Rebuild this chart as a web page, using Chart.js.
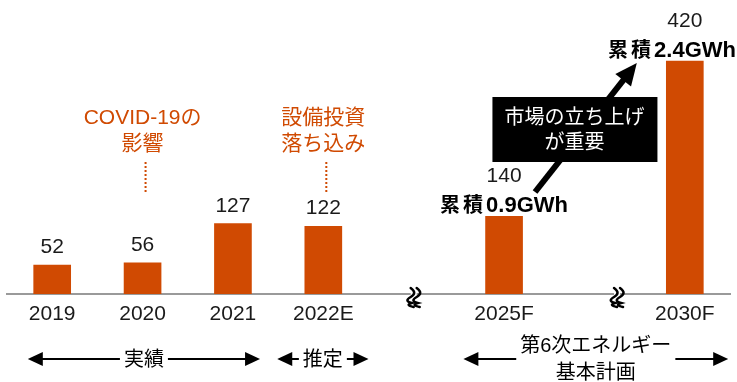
<!DOCTYPE html>
<html lang="ja">
<head>
    <meta charset="UTF-8">
    <title>蓄電池市場</title>
    <script src="https://cdn.jsdelivr.net/npm/chart.js"></script>
    <style>
        html, body { margin: 0; padding: 0; background: #fff; }
        #wrap { width: 737px; height: 382px; position: relative; }
    </style>
</head>
<body>
<div id="wrap"><canvas id="chart" width="737" height="382"></canvas></div>
<script>
// データ（空欄はグラフ上の省略部分）
const years = ['2019', '2020', '2021', '2022E', '', '2025F', '', '2030F'];
const values = [52, 56, 127, 122, null, 140, null, 420];
const notes = ['', '', '', '', '', '累積0.9GWh', '', '累積2.4GWh'];
const breakAt = [4, 6.25];

// 吹き出し
const topNotes = [
    { at: 1, lines: ['COVID-19の', '影響'] },
    { at: 3, lines: ['設備投資', '落ち込み'] }
];
const calloutLines = ['市場の立ち上げ', 'が重要'];

// 期間の矢印
const periods = [
    { lines: ['実績'], from: -0.27, to: 2.3 },
    { lines: ['推定'], from: 2.49, to: 3.5 },
    { lines: ['第6次エネルギー', '基本計画'], from: 4.55, to: 7.48 }
];

const ORANGE = '#D04A02';
const FONT = '"Liberation Sans", Arial, "Noto Sans CJK JP", sans-serif';

function arrowHead(ctx, x, y, dir) {
    // 水平の矢じり
    ctx.beginPath();
    ctx.moveTo(x, y);
    ctx.lineTo(x - dir * 15, y - 7);
    ctx.lineTo(x - dir * 15, y + 7);
    ctx.closePath();
    ctx.fill();
}

// 「累積」と数字部分を分けて描く
function drawNote(ctx, text, cx, y, maxRight) {
    const m = text.match(/^(\D+)(.*)$/);
    const head = m ? m[1] : '';
    const tail = m ? m[2] : text;
    ctx.font = 'bold 20px ' + FONT;
    ctx.letterSpacing = '3px';
    const w1 = ctx.measureText(head).width;
    ctx.font = 'bold 22px ' + FONT;
    ctx.letterSpacing = '0px';
    const w2 = ctx.measureText(tail).width;
    const w = w1 + w2;
    if (cx + w / 2 > maxRight) cx = maxRight - w / 2;
    const x0 = cx - w / 2;
    ctx.textAlign = 'left';
    ctx.fillStyle = '#000';
    ctx.font = 'bold 20px ' + FONT;
    ctx.letterSpacing = '3px';
    ctx.fillText(head, x0, y);
    ctx.font = 'bold 22px ' + FONT;
    ctx.letterSpacing = '0px';
    ctx.fillText(tail, x0 + w1, y);
    ctx.textAlign = 'center';
}

const annotations = {
    id: 'annotations',
    afterDatasetsDraw(chart) {
        const ctx = chart.ctx;
        const xs = chart.scales.x;
        const ys = chart.scales.y;
        const meta = chart.getDatasetMeta(0);
        ctx.save();

        // 省略記号
        ctx.strokeStyle = '#000';
        ctx.lineWidth = 2.5;
        ctx.lineCap = 'round';
        const base = ys.getPixelForValue(0);
        breakAt.forEach(function (b) {
            const x = xs.getPixelForValue(b);
            ctx.fillStyle = '#fff';
            ctx.fillRect(x - 3, base - 3, 6, 6);
            [-3, 3].forEach(function (dx) {
                const cx = x + dx;
                ctx.beginPath();
                ctx.moveTo(cx, base - 6);
                ctx.quadraticCurveTo(cx + 7, base - 1, cx, base + 3);
                ctx.quadraticCurveTo(cx - 7, base + 7, cx + 1, base + 9);
                ctx.quadraticCurveTo(cx - 6, base + 11, cx + 3, base + 13);
                ctx.stroke();
            });
        });
        ctx.lineCap = 'butt';

        // 値ラベル
        ctx.textAlign = 'center';
        ctx.textBaseline = 'alphabetic';
        meta.data.forEach(function (bar, i) {
            if (values[i] == null) return;
            const top = bar.y;
            ctx.font = '21px ' + FONT;
            ctx.fillStyle = '#1a1a1a';
            if (notes[i]) {
                ctx.fillText(values[i], bar.x, top - 34);
                drawNote(ctx, notes[i], bar.x, top - 4, chart.width - 1);
            } else {
                ctx.fillText(values[i], bar.x, top - 12);
            }
        });

        // オレンジの注記
        topNotes.forEach(function (n) {
            const x = xs.getPixelForValue(n.at);
            ctx.font = '21px ' + FONT;
            ctx.fillStyle = ORANGE;
            ctx.textBaseline = 'middle';
            n.lines.forEach(function (t, k) {
                ctx.fillText(t, x, 118 + k * 26);
            });
            ctx.strokeStyle = ORANGE;
            ctx.lineWidth = 2;
            ctx.setLineDash([2, 2]);
            ctx.beginPath();
            ctx.moveTo(x + 3, 162);
            ctx.lineTo(x + 3, 194);
            ctx.stroke();
            ctx.setLineDash([]);
        });

        // 黒い矢印と吹き出し
        const sx = xs.getPixelForValue(5) + 31, sy = 192;
        const ex = xs.getPixelForValue(7) - 48, ey = 63;
        const ang = Math.atan2(ey - sy, ex - sx);
        ctx.strokeStyle = '#000';
        ctx.fillStyle = '#000';
        ctx.lineWidth = 6;
        ctx.beginPath();
        ctx.moveTo(sx, sy);
        ctx.lineTo(ex - 16 * Math.cos(ang), ey - 16 * Math.sin(ang));
        ctx.stroke();
        ctx.beginPath();
        ctx.moveTo(ex, ey);
        ctx.lineTo(ex - 22 * Math.cos(ang) + 10 * Math.sin(ang), ey - 22 * Math.sin(ang) - 10 * Math.cos(ang));
        ctx.lineTo(ex - 22 * Math.cos(ang) - 10 * Math.sin(ang), ey - 22 * Math.sin(ang) + 10 * Math.cos(ang));
        ctx.closePath();
        ctx.fill();

        const bx = xs.getPixelForValue(6) - 20;
        ctx.fillRect(bx - 82, 97, 165, 65);
        ctx.fillStyle = '#fff';
        ctx.font = '20px ' + FONT;
        ctx.textBaseline = 'middle';
        calloutLines.forEach(function (t, k) {
            ctx.fillText(t, bx, 118 + k * 25);
        });

        // 期間の矢印
        ctx.fillStyle = '#000';
        ctx.strokeStyle = '#000';
        ctx.lineWidth = 2;
        const ay = 359;
        periods.forEach(function (p) {
            const x0 = xs.getPixelForValue(p.from);
            const x1 = xs.getPixelForValue(p.to);
            const cx = (x0 + x1) / 2;
            ctx.font = '20px ' + FONT;
            let w = 0;
            p.lines.forEach(function (t) { w = Math.max(w, ctx.measureText(t).width); });
            const gap = w / 2 + 4;
            ctx.beginPath();
            ctx.moveTo(x0 + 10, ay);
            ctx.lineTo(cx - gap, ay);
            ctx.moveTo(cx + gap, ay);
            ctx.lineTo(x1 - 10, ay);
            ctx.stroke();
            arrowHead(ctx, x0, ay, -1);
            arrowHead(ctx, x1, ay, 1);
            ctx.textBaseline = 'middle';
            if (p.lines.length === 1) {
                ctx.fillText(p.lines[0], cx, ay + 1);
            } else {
                p.lines.forEach(function (t, k) {
                    ctx.fillText(t, cx, ay - 13 + k * 27);
                });
            }
        });

        ctx.restore();
    }
};

new Chart(document.getElementById('chart'), {
    type: 'bar',
    data: {
        labels: years,
        datasets: [{
            data: values,
            backgroundColor: ORANGE,
            borderWidth: 0,
            barThickness: 37
        }]
    },
    options: {
        responsive: false,
        animation: false,
        layout: { padding: { left: 7, right: 7, top: 0, bottom: 0 } },
        plugins: {
            legend: { display: false },
            tooltip: { enabled: false }
        },
        scales: {
            x: {
                grid: { display: false, drawTicks: false },
                border: { display: true, color: '#9a9a9a', width: 2 },
                ticks: {
                    color: '#1a1a1a',
                    font: { family: FONT, size: 21 },
                    padding: 8,
                    maxRotation: 0,
                    autoSkip: false
                },
                afterFit: function (s) { s.height = 88; }
            },
            y: {
                display: false,
                min: 0,
                max: 530
            }
        }
    },
    plugins: [annotations]
});
</script>
</body>
</html>
